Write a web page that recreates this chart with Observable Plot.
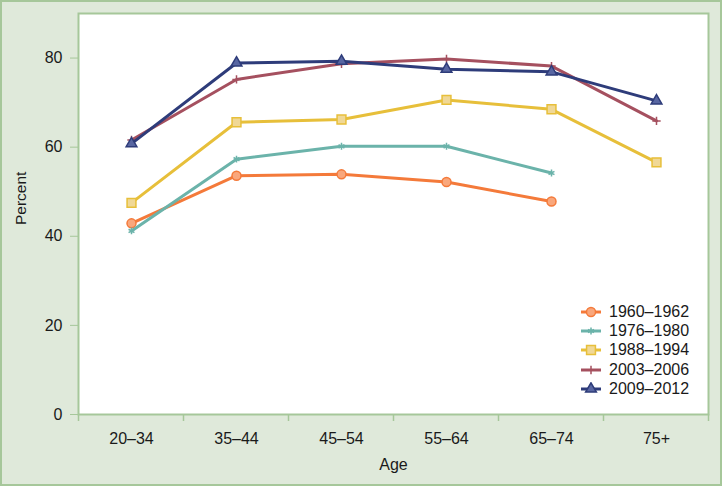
<!DOCTYPE html>
<html><head><meta charset="utf-8">
<script src="https://cdn.jsdelivr.net/npm/d3@7"></script>
<script src="https://cdn.jsdelivr.net/npm/@observablehq/plot@0.6"></script>
<style>
body{margin:0;background:#fff;}
#wrap{position:relative;width:722px;height:486px;font-family:"Liberation Sans",Arial,Helvetica,sans-serif;}
#legend{position:absolute;left:578px;top:302px;font-size:16px;color:#1a1a1a;}
#legend .row{display:flex;align-items:center;height:19.3px;}
#legend svg{margin-right:5px;}
</style></head><body><div id="wrap"><div id="legend"></div></div>
<script>
const ages = ["20–34","35–44","45–54","55–64","65–74","75+"];
const periods = ["1960–1962","1976–1980","1988–1994","2003–2006","2009–2012"];
const v1960 = [42.9, 53.6, 53.9, 52.2, 47.8, null];
const v1976 = [41.2, 57.3, 60.2, 60.2, 54.2, null];
const v1988 = [47.5, 65.6, 66.2, 70.6, 68.5, 56.6];
const v2003 = [61.6, 75.2, 78.7, 79.8, 78.2, 65.9];
const v2009 = [60.8, 78.9, 79.3, 77.5, 76.9, 70.4];
const yTicks = [0, 20, 40, 60, 80];

const series = [v1960, v1976, v1988, v2003, v2009];
const lineColors = ["#f47a3a", "#6bb3aa", "#e7bf3a", "#a5505f", "#2e3c7a"];
const markFills = ["#f9a77c", "#6bb3aa", "#f0d896", "#a5505f", "#5866a2"];
const symbols = ["circle", "asterisk", "square", "plus", "triangle"];
const radii = [4.5, 3.2, 5, 2.8, 4];

const green = "#a6c79a";
const bg = "#dfe9da";

const data = [];
periods.forEach((p, i) => series[i].forEach((v, j) => { if (v != null) data.push({period: p, age: ages[j], value: v}); }));

function boundaryTicks(index, scales, values, dims) {
  const x = scales.x;
  const step = x(ages[1]) - x(ages[0]);
  const xs = ages.map(a => x(a) - step / 2).concat([x(ages[ages.length - 1]) + step / 2]);
  const y0 = dims.height - dims.marginBottom;
  const g = d3.create("svg:g");
  g.selectAll("line").data(xs).join("line")
    .attr("x1", d => d).attr("x2", d => d)
    .attr("y1", y0).attr("y2", y0 + 7)
    .attr("stroke", green).attr("stroke-width", 1.5);
  return g.node();
}

const marks = [
  Plot.frame({fill: "white", stroke: green, strokeWidth: 2}),
  boundaryTicks,
  Plot.axisY({ticks: yTicks, tickSize: 8, tickPadding: 8, stroke: green, fill: "#1a1a1a", label: null, fontSize: 16}),
  Plot.axisX({tickSize: 0, tickPadding: 18, label: null, fill: "#1a1a1a", fontSize: 16}),
  Plot.text(["Percent"], {frameAnchor: "left", rotate: -90, dx: -57, dy: 11, fontSize: 15.5, fill: "#1a1a1a"}),
  Plot.text(["Age"], {frameAnchor: "bottom", lineAnchor: "bottom", dy: 55, fontSize: 16, fill: "#1a1a1a"})
];
periods.forEach((p, i) => {
  const d = data.filter(r => r.period === p);
  marks.push(Plot.line(d, {x: "age", y: "value", stroke: lineColors[i], strokeWidth: 3}));
  marks.push(Plot.dot(d, {x: "age", y: "value", symbol: symbols[i], r: radii[i], stroke: lineColors[i], fill: markFills[i], strokeWidth: 1.5}));
});

const chart = Plot.plot({
  width: 722, height: 486,
  marginLeft: 78, marginRight: 14, marginTop: 13, marginBottom: 72,
  style: {background: bg, fontFamily: '"Liberation Sans", Arial, Helvetica, sans-serif', fontSize: "16px", color: "#1a1a1a"},
  x: {type: "point", domain: ages, padding: 0.5, axis: null},
  y: {domain: [0, 90], axis: null},
  marks
});
chart.style.outline = `2px solid ${green}`;
chart.style.outlineOffset = "-2px";
chart.style.display = "block";
document.getElementById("wrap").prepend(chart);

const legend = d3.select("#legend");
const symMap = {circle: d3.symbolCircle, asterisk: d3.symbolAsterisk, square: d3.symbolSquare, plus: d3.symbolPlus, triangle: d3.symbolTriangle};
periods.forEach((p, i) => {
  const row = legend.append("div").attr("class", "row");
  const s = row.append("svg").attr("width", 26).attr("height", 14);
  s.append("line").attr("x1", 3).attr("x2", 23).attr("y1", 7).attr("y2", 7).attr("stroke", lineColors[i]).attr("stroke-width", 3);
  s.append("path").attr("transform", "translate(13,7)")
    .attr("d", d3.symbol(symMap[symbols[i]], Math.PI * radii[i] * radii[i])())
    .attr("fill", (symbols[i] === "asterisk" || symbols[i] === "plus") ? "none" : markFills[i])
    .attr("stroke", lineColors[i]).attr("stroke-width", 1.5);
  row.append("span").text(p);
});
</script>
</body></html>
